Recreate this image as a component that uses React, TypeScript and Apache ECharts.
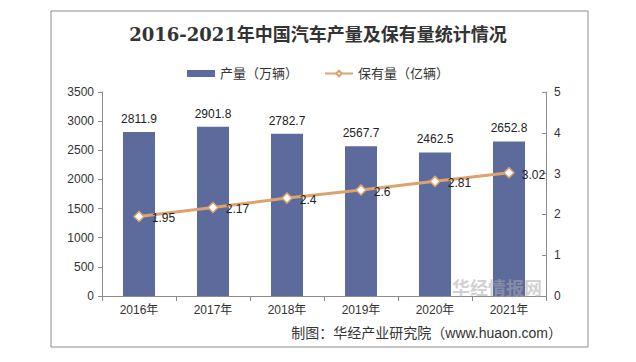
import React, { useEffect, useRef } from "react";
import * as echarts from "echarts";

const categories = ["2016年", "2017年", "2018年", "2019年", "2020年", "2021年"];
const production = [2811.9, 2901.8, 2782.7, 2567.7, 2462.5, 2652.8];
const ownership = [1.95, 2.17, 2.4, 2.6, 2.81, 3.02];
const leftTicks = { min: 0, max: 3500, interval: 500 };
const rightTicks = { min: 0, max: 5, interval: 1 };

const titleText = "2016-2021年中国汽车产量及保有量统计情况";
const sourceText = "制图：华经产业研究院（www.huaon.com）";
const watermarkText = "华经情报网";
const seriesNames = ["产量（万辆）", "保有量（亿辆）"];

const FONT = "Arial, 'Liberation Sans', 'Noto Sans CJK SC', sans-serif";

export default function App() {
  const ref = useRef<HTMLDivElement>(null);
  useEffect(() => {
    const chart = echarts.init(ref.current!, null, { renderer: "svg" });
    chart.setOption({
      animation: false,
      backgroundColor: "#ffffff",
      textStyle: { fontFamily: FONT },
      title: {
        text: titleText,
        left: "center",
        top: 20,
        textStyle: {
          fontFamily: "'DejaVu Serif', 'Liberation Serif', 'Noto Sans CJK SC', serif",
          fontWeight: "bold",
          fontSize: 18,
          color: "#333333",
        },
      },
      legend: {
        top: 62,
        left: "center",
        itemGap: 26,
        itemWidth: 28,
        itemHeight: 7,
        textStyle: { fontSize: 13, color: "#333333", fontFamily: FONT },
        data: [
          { name: seriesNames[0], icon: "rect" },
          { name: seriesNames[1] },
        ],
      },
      grid: { left: 102, right: 90, top: 92, bottom: 66 },
      xAxis: {
        type: "category",
        data: categories,
        axisLine: { lineStyle: { color: "#8c8c8c" } },
        axisTick: { show: true, alignWithLabel: false, length: 5, lineStyle: { color: "#8c8c8c" } },
        axisLabel: { color: "#333333", fontSize: 12, margin: 8 },
      },
      yAxis: [
        {
          type: "value",
          ...leftTicks,
          axisLine: { show: true, lineStyle: { color: "#8c8c8c" } },
          axisTick: { show: true, length: 4, lineStyle: { color: "#8c8c8c" } },
          axisLabel: { color: "#333333", fontSize: 12, margin: 8, formatter: (v: number) => String(v) },
          splitLine: { show: false },
        },
        {
          type: "value",
          ...rightTicks,
          position: "right",
          axisLine: { show: true, lineStyle: { color: "#8c8c8c" } },
          axisTick: { show: true, inside: true, length: 4, lineStyle: { color: "#8c8c8c" } },
          axisLabel: { color: "#333333", fontSize: 12, margin: 8, formatter: (v: number) => String(v) },
          splitLine: { show: false },
        },
      ],
      series: [
        {
          name: seriesNames[0],
          type: "bar",
          data: production,
          barWidth: 32,
          itemStyle: { color: "#5c6b9c" },
          label: {
            show: true,
            position: "top",
            distance: 7,
            color: "#222222",
            fontSize: 12,
          },
        },
        {
          name: seriesNames[1],
          type: "line",
          yAxisIndex: 1,
          data: ownership,
          symbol: "diamond",
          symbolSize: 10,
          lineStyle: { color: "#dca36e", width: 3 },
          itemStyle: { color: "#ffffff", borderColor: "#dca36e", borderWidth: 1.5 },
          label: {
            show: true,
            position: "right",
            distance: 7,
            offset: [0, 2],
            color: "#222222",
            fontSize: 12,
          },
        },
      ],
      graphic: [
        {
          type: "rect",
          shape: { x: 51, y: 11, width: 537, height: 336 },
          style: { fill: "none", stroke: "#8c8c8c", lineWidth: 1 },
          silent: true,
        },
        {
          type: "text",
          x: 497,
          y: 287,
          z: 100,
          style: {
            text: watermarkText,
            fill: "rgba(170,170,170,0.55)",
            font: "bold 18px 'Noto Sans CJK SC', sans-serif",
            textAlign: "center",
            textVerticalAlign: "middle",
          },
          silent: true,
        },
        {
          type: "text",
          x: 562,
          y: 333,
          style: {
            text: sourceText,
            fill: "#333333",
            font: "14px Arial, 'Noto Sans CJK SC', sans-serif",
            textAlign: "right",
            textVerticalAlign: "middle",
          },
        },
      ],
    });
    return () => chart.dispose();
  }, []);
  return <div ref={ref} style={{ width: 636, height: 362, position: "absolute", left: 0, top: 0 }} />;
}
